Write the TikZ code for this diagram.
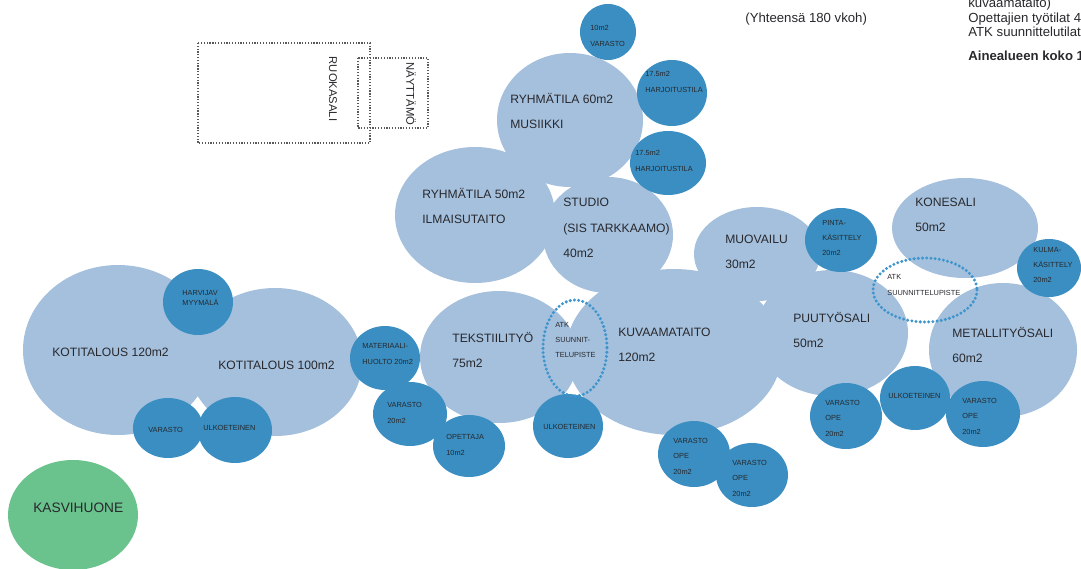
\documentclass[tikz,border=0pt]{standalone}
\usepackage{fontspec}
\setmainfont{Liberation Sans}
\definecolor{roomblue}{RGB}{164,192,220}
\definecolor{storeblue}{RGB}{58,142,193}
\definecolor{greenhouse}{RGB}{106,194,140}
\definecolor{atkblue}{RGB}{62,148,204}
\definecolor{labeltext}{RGB}{40,40,45}
\begin{document}
\begin{tikzpicture}[x=0.02cm,y=-0.02cm,
    room/.style={fill=roomblue},
    store/.style={fill=storeblue},
    big/.style={anchor=west,align=left,inner sep=0pt,text=labeltext,font=\fontsize{6.9}{14.5}\selectfont},
    tiny/.style={anchor=west,align=left,inner sep=0pt,text=labeltext,font=\fontsize{4.2}{8.8}\selectfont},
    top/.style={anchor=base west,inner sep=0pt,text=labeltext,font=\fontsize{7.5}{9}\selectfont},
    atk/.style={draw=atkblue,line width=1.9pt,dash pattern=on 0pt off 2.4pt,line cap=round},
    plan/.style={draw=black!65,line width=0.7pt,dash pattern=on 0.7pt off 0.9pt}]
    \useasboundingbox (0,0) rectangle (1081,568);
    \clip (0,0) rectangle (1081,568);
    \fill[room] (118,350) ellipse (95 and 85);
    \fill[room] (275,362) ellipse (87 and 74);
    \fill[room] (499,357) ellipse (79 and 66);
    \fill[room] (674,352) ellipse (108 and 83);
    \fill[room] (608,235) ellipse (65 and 58);
    \fill[room] (475,215) ellipse (80 and 68);
    \fill[room] (570,120) ellipse (73 and 67);
    \fill[room] (757,254) ellipse (63 and 47);
    \fill[room] (832,333) ellipse (76 and 63);
    \fill[room] (965,228) ellipse (73 and 50);
    \fill[room] (1003,350) ellipse (74 and 67);
    \fill[greenhouse] (73,515) ellipse (65 and 55);
    \fill[store] (608,32) ellipse (28 and 28);
    \fill[store] (672,93) ellipse (35 and 33);
    \fill[store] (668,163) ellipse (38 and 32);
    \fill[store] (841,240) ellipse (36 and 32);
    \fill[store] (1049,268) ellipse (32 and 29);
    \fill[store] (198,302) ellipse (35 and 33);
    \fill[store] (168,428) ellipse (35 and 30);
    \fill[store] (235,430) ellipse (37 and 33);
    \fill[store] (385,358) ellipse (35 and 32);
    \fill[store] (410,414) ellipse (37 and 32);
    \fill[store] (469,446) ellipse (36 and 31);
    \fill[store] (568,426) ellipse (35 and 32);
    \fill[store] (694,454) ellipse (36 and 33);
    \fill[store] (752,475) ellipse (36 and 32);
    \fill[store] (846,416) ellipse (36 and 33);
    \fill[store] (915,398) ellipse (35 and 32);
    \fill[store] (983,414) ellipse (37 and 33);
    \draw[atk] (575,348) ellipse (32 and 48);
    \draw[atk] (925,290) ellipse (52 and 32);
    \draw[plan] (198,43) rectangle (370,143);
    \draw[plan] (358,58) rectangle (428,128);
    \node[rotate=-90,inner sep=0pt,text=labeltext,font=\fontsize{6.4}{7}\selectfont] (ruokasali) at (333,89) {RUOKASALI};
    \node[rotate=-90,inner sep=0pt,text=labeltext,font=\fontsize{6.4}{7}\selectfont] (nayttamo) at (411,94) {NÄYTTÄMÖ};
    \node[big] (musiikki) at (510,111) {RYHMÄTILA 60m2\\MUSIIKKI};
    \node[big] (ilmaisu) at (422,206) {RYHMÄTILA 50m2\\ILMAISUTAITO};
    \node[big] (studio) at (563,228) {STUDIO\\(SIS TARKKAAMO)\\40m2};
    \node[big] (muovailu) at (725,252) {MUOVAILU\\30m2};
    \node[big] (konesali) at (915,215) {KONESALI\\50m2};
    \node[big] (puu) at (793,330) {PUUTYÖSALI\\50m2};
    \node[big] (metalli) at (952,345) {METALLITYÖSALI\\60m2};
    \node[big] (kuva) at (618,345) {KUVAAMATAITO\\120m2};
    \node[big] (tekstiili) at (452,350) {TEKSTIILITYÖ\\75m2};
    \node[big] (koti1) at (52,352) {KOTITALOUS 120m2};
    \node[big] (koti2) at (218,365) {KOTITALOUS 100m2};
    \node[big,font=\fontsize{7.8}{9}\selectfont] (kasvi) at (33,508) {KASVIHUONE};
    \node[tiny] (varasto10) at (590,36) {10m2\\VARASTO};
    \node[tiny] (harjoitus1) at (645,82) {17.5m2\\HARJOITUSTILA};
    \node[tiny] (harjoitus2) at (635,161) {17.5m2\\HARJOITUSTILA};
    \node[tiny] (pinta) at (822,238) {PINTA-\\KÄSITTELY\\20m2};
    \node[tiny] (kulma) at (1033,265) {KULMA-\\KÄSITTELY\\20m2};
    \node[tiny] (atk2) at (887,285) {ATK\\SUUNNITTELUPISTE};
    \node[tiny] (atk1) at (555,340) {ATK\\SUUNNIT-\\TELUPISTE};
    \node[tiny,font=\fontsize{4.2}{5.7}\selectfont] (myymala) at (182,298) {HARVIJAV\\MYYMÄLÄ};
    \node[tiny] (kotivar) at (148,430) {VARASTO};
    \node[tiny] (kotiulko) at (203,428) {ULKOETEINEN};
    \node[tiny] (materiaali) at (362,354) {MATERIAALI-\\HUOLTO 20m2};
    \node[tiny] (tekvar) at (387,413) {VARASTO\\20m2};
    \node[tiny] (opettaja) at (446,445) {OPETTAJA\\10m2};
    \node[tiny] (tekulko) at (543,427) {ULKOETEINEN};
    \node[tiny] (kuvavar1) at (673,456) {VARASTO\\OPE\\20m2};
    \node[tiny] (kuvavar2) at (732,478) {VARASTO\\OPE\\20m2};
    \node[tiny] (puuvar) at (825,418) {VARASTO\\OPE\\20m2};
    \node[tiny] (puuulko) at (888,396) {ULKOETEINEN};
    \node[tiny] (metvar) at (962,416) {VARASTO\\OPE\\20m2};
    \node[top] (yhteensa) at (745,22.5) {(Yhteensä 180 vkoh)};
    \node[top] (kuvarivi) at (968,8) {kuvaamataito)};
    \node[top] (opettajat) at (968,22.5) {Opettajien työtilat 4};
    \node[top] (atkrivi) at (968,36) {ATK suunnittelutilat};
    \node[top,font=\bfseries\fontsize{7.5}{9}\selectfont] (koko) at (968,60) {Ainealueen koko 1};
\end{tikzpicture}
\end{document}
